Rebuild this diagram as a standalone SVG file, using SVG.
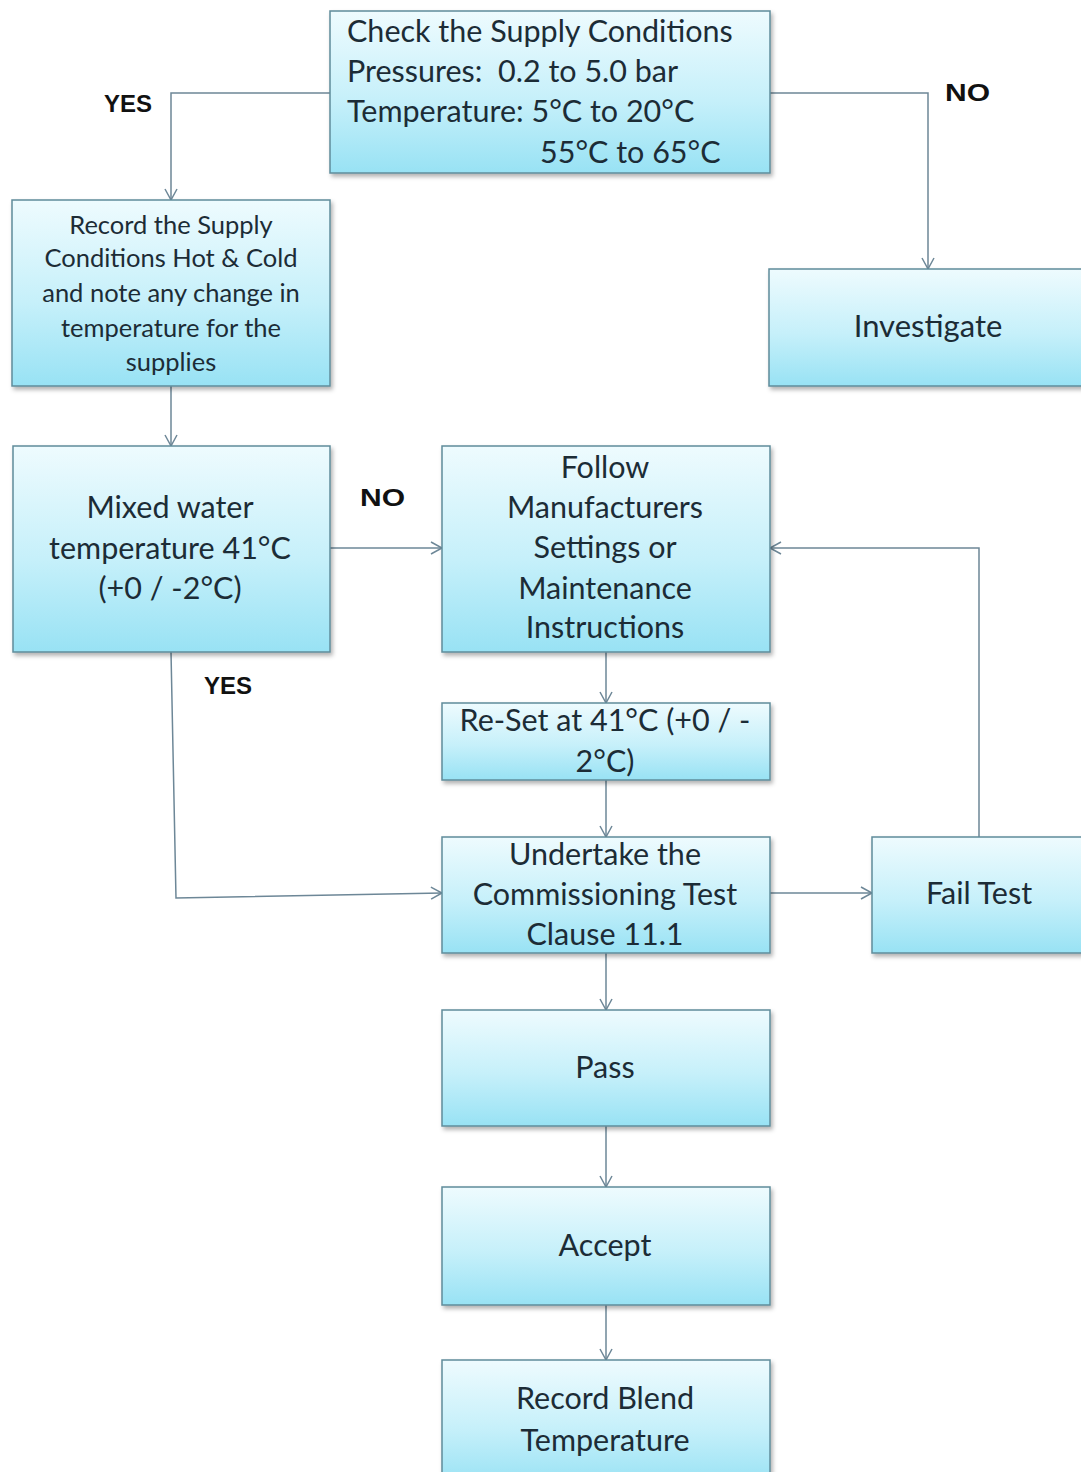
<svg xmlns="http://www.w3.org/2000/svg" width="1081" height="1472" viewBox="0 0 1081 1472">
<defs>
<linearGradient id="g" x1="0" y1="0" x2="0" y2="1">
<stop offset="0" stop-color="#eefbfe"/>
<stop offset="0.55" stop-color="#c6f0fa"/>
<stop offset="1" stop-color="#98e2f4"/>
</linearGradient>
<filter id="sh" x="-5%" y="-5%" width="115%" height="120%">
<feDropShadow dx="2" dy="3" stdDeviation="2" flood-color="#000" flood-opacity="0.3"/>
</filter>
<marker id="ar" markerWidth="14" markerHeight="14" refX="12" refY="7" orient="auto" markerUnits="userSpaceOnUse">
<path d="M1,1 L12,7 L1,13" fill="none" stroke="#6d8797" stroke-width="1.5"/>
</marker>
<style>
.box{fill:url(#g);stroke:#5f8c9b;stroke-width:1.5;filter:url(#sh)}
.t{font-family:Lato,"Open Sans",sans-serif;fill:#1c2c36;text-anchor:middle}
.tl{font-family:Lato,"Open Sans",sans-serif;fill:#1c2c36;white-space:pre}
.lb{font-family:"Liberation Sans",Arial,sans-serif;font-weight:bold;font-size:24px;fill:#111}
.c{fill:none;stroke:#6d8797;stroke-width:1.5;marker-end:url(#ar)}
</style>
</defs>
<rect width="1081" height="1472" fill="#fff"/>
<g id="connectors">
<path class="c" d="M330,93 H171 V200"/>
<path class="c" d="M770,93 H928 V269"/>
<path class="c" d="M171,386 V446"/>
<path class="c" d="M330,548 H442"/>
<path class="c" d="M606,652 V703"/>
<path class="c" d="M606,780 V837"/>
<path class="c" d="M171,652 L176,898 L442,893"/>
<path class="c" d="M770,893 H872"/>
<path class="c" d="M979,837 V548 H770"/>
<path class="c" d="M606,953 V1010"/>
<path class="c" d="M606,1126 V1187"/>
<path class="c" d="M606,1305 V1360"/>
</g>
<g id="labels">
<text class="lb" x="104" y="112">YES</text>
<text class="lb" x="945" y="101" textLength="45" lengthAdjust="spacingAndGlyphs">NO</text>
<text class="lb" x="360" y="506" textLength="45" lengthAdjust="spacingAndGlyphs">NO</text>
<text class="lb" x="204" y="694">YES</text>
</g>
<g id="n-check">
<rect class="box" x="330" y="11" width="440" height="162"/>
<text class="tl" font-size="30.5" x="347" y="42">Check the Supply Conditions</text>
<text class="tl" font-size="30.5" x="347" y="82">Pressures:  0.2 to 5.0 bar</text>
<text class="tl" font-size="30.5" x="347" y="122">Temperature: 5°C to 20°C</text>
<text class="tl" font-size="30.5" x="540" y="163">55°C to 65°C</text>
</g>
<g id="n-record">
<rect class="box" x="12" y="200" width="318" height="186"/>
<g class="t" font-size="25.5">
<text x="171" y="234">Record the Supply</text>
<text x="171" y="267">Conditions Hot &amp; Cold</text>
<text x="171" y="302">and note  any change in</text>
<text x="171" y="337">temperature  for the</text>
<text x="171" y="371">supplies</text>
</g>
</g>
<g id="n-investigate">
<rect class="box" x="769" y="269" width="320" height="117"/>
<text class="t" font-size="31" x="928" y="337">Investigate</text>
</g>
<g id="n-mixed">
<rect class="box" x="13" y="446" width="317" height="206"/>
<g class="t" font-size="30.5">
<text x="170" y="518">Mixed water</text>
<text x="170" y="559">temperature 41°C</text>
<text x="170" y="599">(+0 / -2°C)</text>
</g>
</g>
<g id="n-follow">
<rect class="box" x="442" y="446" width="328" height="206"/>
<g class="t" font-size="30.5">
<text x="605" y="478">Follow</text>
<text x="605" y="518">Manufacturers</text>
<text x="605" y="558">Settings or</text>
<text x="605" y="599">Maintenance</text>
<text x="605" y="638">Instructions</text>
</g>
</g>
<g id="n-reset">
<rect class="box" x="442" y="703" width="328" height="77"/>
<g class="t" font-size="30.5">
<text x="605" y="731">Re-Set at 41°C (+0 / -</text>
<text x="605" y="772">2°C)</text>
</g>
</g>
<g id="n-undertake">
<rect class="box" x="442" y="837" width="328" height="116"/>
<g class="t" font-size="30.5">
<text x="605" y="865">Undertake the</text>
<text x="605" y="905">Commissioning Test</text>
<text x="605" y="945">Clause 11.1</text>
</g>
</g>
<g id="n-fail">
<rect class="box" x="872" y="837" width="217" height="116"/>
<text class="t" font-size="30.5" x="979" y="904">Fail Test</text>
</g>
<g id="n-pass">
<rect class="box" x="442" y="1010" width="328" height="116"/>
<text class="t" font-size="30.5" x="605" y="1078">Pass</text>
</g>
<g id="n-accept">
<rect class="box" x="442" y="1187" width="328" height="118"/>
<text class="t" font-size="30.5" x="605" y="1256">Accept</text>
</g>
<g id="n-blend">
<rect class="box" x="442" y="1360" width="328" height="125"/>
<g class="t" font-size="30.5">
<text x="605" y="1409">Record Blend</text>
<text x="605" y="1451">Temperature</text>
</g>
</g>
</svg>
